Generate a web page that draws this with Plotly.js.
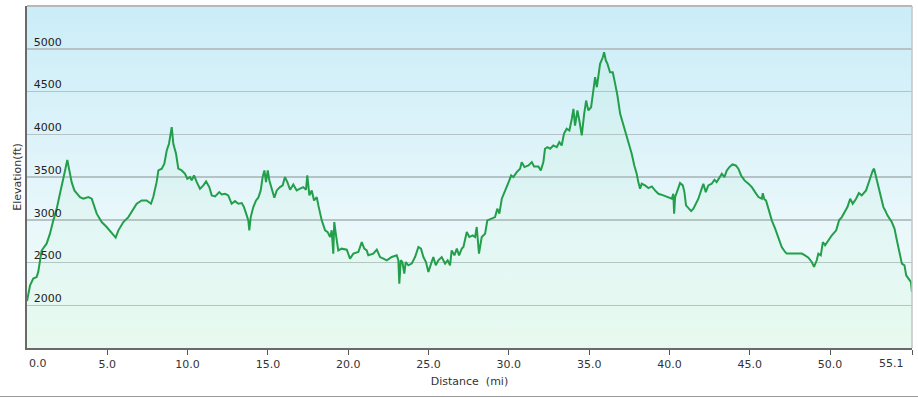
<!DOCTYPE html>
<html>
<head>
<meta charset="utf-8">
<script src="https://cdn.plot.ly/plotly-3.0.1.min.js"></script>
<style>
  html, body { margin: 0; padding: 0; background: #ffffff; }
  #wrap { position: relative; width: 918px; height: 398px; overflow: hidden; }
  #bg { position: absolute; left: 27px; top: 6px; width: 885px; height: 342px;
        background: linear-gradient(to bottom, #cbedf8 0%, #dbf2f9 35%, #eaf8fb 65%, #f0fcf6 100%); }
  #frame { position: absolute; left: 0; top: 396px; width: 918px; height: 0; border-top: 1px solid #9a9a9a; }
  #chart { position: absolute; left: 0; top: 0; width: 918px; height: 398px; }
</style>
</head>
<body>
<div id="wrap">
  <div id="bg"></div>
  <div id="frame"></div>
  <div id="chart"></div>
</div>
<script>
// Distance along the route (miles)
const distance = [
  0.0,0.19,0.39,0.6,0.7,0.81,0.91,1.22,1.43,1.64,1.85,2.05,2.2,2.37,2.51,2.64,2.78,2.95,3.3,3.51,3.82,4.03,4.34,4.65,4.96,5.31,5.52,5.69,6.0,6.31,6.52,6.83,7.14,7.45,7.72,7.86,8.07,8.18,8.39,8.55,8.7,8.84,9.01,
  9.11,9.28,9.42,9.63,9.84,9.98,10.15,10.25,10.4,10.57,10.77,10.98,11.15,11.35,11.5,11.71,11.97,12.12,12.33,12.53,12.74,12.95,13.16,13.37,13.51,13.68,13.78,13.84,13.93,14.09,14.26,14.4,14.55,14.67,14.78,14.88,14.99,15.09,15.23,15.4,15.55,15.75,15.92,16.06,16.21,16.38,16.58,16.79,17.0,17.2,17.37,17.45,17.58,17.73,17.87,18.04,
  18.14,18.35,18.56,18.72,18.87,18.97,19.07,19.13,19.24,19.38,19.59,19.91,20.11,20.32,20.63,20.84,21.0,21.15,21.25,21.56,21.78,21.98,22.19,22.4,22.71,23.02,23.12,23.18,23.27,23.37,23.49,23.58,23.74,23.95,24.16,24.37,24.53,24.68,24.84,24.99,25.16,25.3,25.45,25.61,25.82,26.03,26.19,26.34,26.44,26.61,26.76,26.9,27.07,
  27.17,27.38,27.54,27.75,27.9,28.0,28.14,28.31,28.52,28.66,28.94,29.14,29.28,29.41,29.56,29.7,29.87,30.03,30.14,30.28,30.49,30.7,30.8,30.97,31.22,31.43,31.57,31.84,31.99,32.15,32.25,32.4,32.57,32.77,32.98,33.14,33.29,33.43,33.6,33.77,33.92,34.02,34.12,34.27,34.39,34.54,34.69,34.81,34.95,35.12,35.26,35.37,35.48,35.58,35.68,35.85,35.93,36.04,36.14,36.3,36.47,36.62,36.76,36.93,
  37.44,37.65,37.81,37.96,38.06,38.17,38.27,38.48,38.69,38.9,39.1,39.31,39.62,39.93,40.14,40.24,40.29,40.35,40.45,40.66,40.83,40.93,41.03,41.18,41.35,41.49,41.64,41.8,41.97,42.11,42.26,42.42,42.63,42.8,42.94,43.11,43.26,43.42,43.57,43.73,43.92,44.13,44.29,44.46,44.67,44.92,45.13,45.33,45.54,45.75,45.81,45.91,
  46.01,46.16,46.37,46.58,46.78,46.99,47.2,47.3,47.61,47.93,48.24,48.44,48.65,48.86,49.0,49.17,49.27,49.42,49.55,49.69,49.9,50.11,50.38,50.56,50.73,50.93,51.08,51.25,51.41,51.62,51.79,51.97,52.24,52.38,52.53,52.66,52.74,52.87,53.01,53.16,53.32,53.43,53.57,53.84,54.01,54.16,54.32,54.47,54.63,54.74,54.88,55.03,55.1
];
// Elevation (ft)
const elevation = [
  2050,2234,2312,2330,2390,2525,2640,2720,2837,2993,3130,3305,3420,3577,3700,3557,3440,3343,3265,3246,3265,3246,3071,2973,2915,2837,2791,2876,2973,3031,3090,3188,3226,3226,3188,3265,3440,3577,3597,3655,3810,3889,4083,
  3889,3772,3597,3577,3538,3480,3499,3460,3518,3440,3363,3402,3448,3382,3285,3273,3323,3296,3304,3285,3188,3218,3188,3195,3148,3051,2993,2876,3031,3148,3226,3258,3343,3499,3577,3440,3577,3460,3363,3258,3343,3382,3402,3499,3440,3351,3413,3343,3363,3382,3351,3518,3285,3343,3226,3265,
  3168,2993,2876,2856,2798,2876,2604,2973,2818,2642,2662,2650,2545,2604,2623,2739,2662,2642,2584,2604,2650,2564,2545,2526,2564,2584,2526,2253,2526,2506,2370,2506,2467,2487,2564,2681,2662,2564,2506,2389,2487,2564,2467,2526,2564,2487,2526,2467,2642,2584,2662,2584,2662,
  2681,2856,2798,2818,2798,2915,2604,2798,2837,2993,3012,3031,3130,3071,3246,3305,3382,3460,3518,3499,3557,3597,3674,3616,3635,3674,3624,3624,3577,3674,3830,3849,3830,3869,3849,3907,3869,4005,4064,4044,4181,4297,4102,4278,4161,3986,4239,4394,4278,4316,4511,4667,4550,4667,4823,4900,4959,4862,4823,4725,4725,4589,4453,4239,
  3927,3772,3635,3538,3440,3363,3421,3402,3370,3390,3343,3304,3285,3265,3246,3304,3071,3265,3323,3429,3402,3323,3168,3130,3101,3130,3188,3246,3343,3421,3323,3402,3421,3468,3440,3499,3538,3499,3577,3616,3647,3635,3597,3518,3460,3421,3382,3323,3265,3246,3311,3238,
  3226,3130,2993,2896,2798,2681,2623,2604,2604,2604,2604,2584,2557,2506,2448,2526,2604,2584,2739,2701,2759,2818,2876,2993,3031,3090,3148,3246,3188,3246,3311,3285,3343,3421,3518,3577,3597,3499,3382,3265,3148,3109,3051,2973,2896,2759,2604,2487,2467,2350,2312,2273,2156
];
// Axis ticks
const xTickVals = [0, 5, 10, 15, 20, 25, 30, 35, 40, 45, 50, 55.1];
const xTickText = ["0.0", "5.0", "10.0", "15.0", "20.0", "25.0", "30.0", "35.0", "40.0", "45.0", "50.0", "55.1"];
const yTickVals = [2000, 2500, 3000, 3500, 4000, 4500, 5000];
const yTickText = ["2000", "2500", "3000", "3500", "4000", "4500", "5000"];

const FONT = "DejaVu Sans, Verdana, sans-serif";

// End labels are drawn as annotations so they can sit inside the frame like the original
const edgeIdx = [0, xTickVals.length - 1];
const axisText = xTickText.map((t, i) => edgeIdx.includes(i) ? "" : t);
const annotations = edgeIdx.map((i, k) => ({
  x: xTickVals[i], y: 0, xref: "x", yref: "paper",
  text: xTickText[i], showarrow: false,
  xanchor: k === 0 ? "left" : "right", yanchor: "top",
  xshift: k === 0 ? 0 : -6, yshift: -7,
  font: { family: FONT, size: 11, color: "#333333" }
}));

const trace = {
  x: distance, y: elevation, type: "scatter", mode: "lines",
  line: { color: "#239f4b", width: 2 },
  fill: "tozeroy", fillcolor: "rgba(150,235,180,0.09)",
  hoverinfo: "skip"
};

const layout = {
  width: 918, height: 398,
  margin: { l: 27, r: 6, t: 6, b: 50, pad: 0 },
  paper_bgcolor: "rgba(0,0,0,0)",
  plot_bgcolor: "rgba(0,0,0,0)",
  showlegend: false,
  font: { family: FONT, size: 11, color: "#333333" },
  xaxis: {
    range: [0, 55.1], autorange: false,
    tickmode: "array", tickvals: xTickVals, ticktext: axisText,
    ticks: "outside", ticklen: 5, tickwidth: 1, tickcolor: "#555555",
    showgrid: false, zeroline: false,
    showline: true, linecolor: "#6a6a6a", linewidth: 2,
    tickfont: { family: FONT, size: 11, color: "#333333" },
    title: { text: "Distance\u00a0\u00a0(mi)", font: { family: FONT, size: 11, color: "#333333" }, standoff: 7 },
    automargin: false, fixedrange: true
  },
  yaxis: {
    range: [1500, 5500], autorange: false,
    tickmode: "array", tickvals: yTickVals, ticktext: yTickText,
    ticks: "", ticklabelposition: "inside", ticklabelshift: -7, ticklabelstandoff: 6,
    showgrid: true, gridcolor: "#b6c3c6", gridwidth: 1.5,
    zeroline: false,
    showline: true, linecolor: "#6a6a6a", linewidth: 2,
    tickfont: { family: FONT, size: 11, color: "#222222" },
    title: { text: "Elevation(ft)", font: { family: FONT, size: 11, color: "#333333" }, standoff: 10 },
    automargin: false, fixedrange: true
  },
  shapes: [
    { type: "line", xref: "paper", yref: "paper", x0: 0, x1: 1, y0: 1, y1: 1, line: { color: "#b8b8b8", width: 2 } },
    { type: "line", xref: "paper", yref: "paper", x0: 1, x1: 1, y0: 0, y1: 1, line: { color: "#c4c4c4", width: 1.5 } }
  ],
  annotations: annotations
};

Plotly.newPlot("chart", [trace], layout, { displayModeBar: false, staticPlot: true });
</script>
</body>
</html>
